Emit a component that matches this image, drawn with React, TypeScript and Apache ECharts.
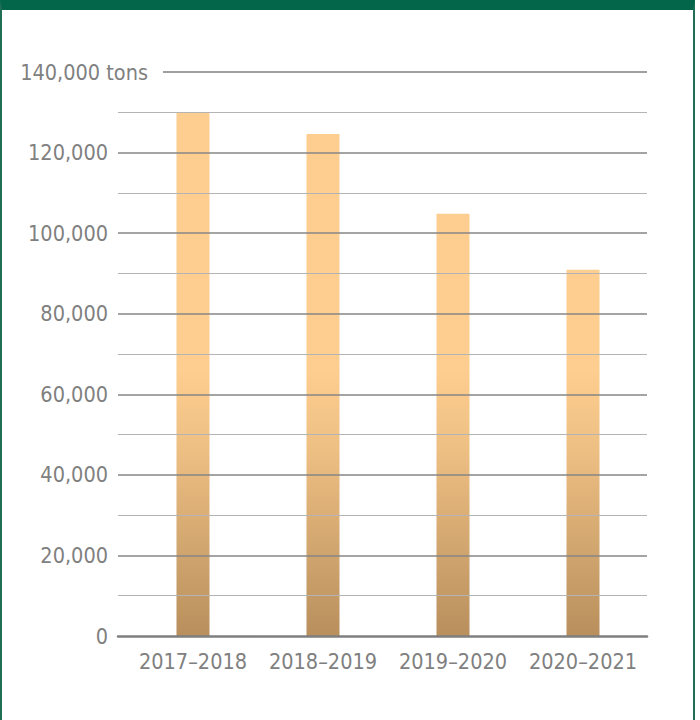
import React, { useEffect, useRef } from "react";
import * as echarts from "echarts";

const categories = ["2017–2018", "2018–2019", "2019–2020", "2020–2021"];
const values = [130000, 124600, 104800, 90900];
const yMax = 140000;
const majorStep = 20000;
const minorStep = 10000;
const unitLabel = "140,000 tons";

const FONT = "'DejaVu Sans Condensed', 'Liberation Sans Narrow', sans-serif";
const TEXT = "#808080";

export default function App() {
  const ref = useRef<HTMLDivElement>(null);
  useEffect(() => {
    document.body.style.margin = "0";
    const chart = echarts.init(ref.current!, null, { renderer: "svg" });
    const fmt = (v: number) => v.toLocaleString("en-US");
    chart.setOption({
      animation: false,
      backgroundColor: "transparent",
      grid: [
        { left: 118, right: 53, top: 72, bottom: 84 },
        { left: 128, right: 52, top: 72, bottom: 84 },
        { left: 163, right: 53, top: 72, bottom: 84 },
      ],
      xAxis: [
        {
          gridIndex: 0, type: "value", min: 0, max: 1, z: 4,
          axisLabel: { show: false }, axisTick: { show: false }, splitLine: { show: false },
          axisLine: { show: true, lineStyle: { color: "#7f7f7f", width: 2.5 } },
        },
        {
          gridIndex: 1, type: "category", data: categories,
          axisLine: { show: false }, axisTick: { show: false }, splitLine: { show: false },
          axisLabel: { color: TEXT, fontFamily: FONT, fontSize: 21.5, margin: 14, interval: 0 },
        },
        {
          gridIndex: 2, type: "value", min: 0, max: 1, show: false,
        },
      ],
      yAxis: [
        {
          gridIndex: 0, type: "value", min: 0, max: yMax, interval: majorStep, z: 4,
          axisLine: { show: false }, axisTick: { show: false },
          axisLabel: {
            color: TEXT, fontFamily: FONT, fontSize: 21.5, margin: 10,
            formatter: (v: number) => (v === yMax ? "" : fmt(v)),
          },
          splitLine: {
            show: true,
            lineStyle: { color: ["transparent", "#868686", "#868686", "#868686", "#868686", "#868686", "#868686", "transparent"], width: 1.7 },
          },
        },
        {
          gridIndex: 0, type: "value", min: 0, max: yMax, interval: minorStep, z: 3,
          axisLine: { show: false }, axisTick: { show: false }, axisLabel: { show: false },
          splitLine: { show: true, lineStyle: { color: ["transparent", "#b4b4b4"], width: 1 } },
        },
        {
          gridIndex: 1, type: "value", min: 0, max: yMax, show: false,
          splitLine: { show: false },
        },
        {
          gridIndex: 2, type: "value", min: 0, max: yMax, interval: yMax, z: 4,
          axisLine: { show: false }, axisTick: { show: false },
          axisLabel: {
            color: TEXT, fontFamily: FONT, fontSize: 21.5, margin: 15,
            formatter: (v: number) => (v === yMax ? unitLabel : ""),
          },
          splitLine: { show: true, lineStyle: { color: ["transparent", "#7f7f7f"], width: 1.6 } },
        },
      ],
      series: [
        {
          type: "bar",
          xAxisIndex: 1,
          yAxisIndex: 2,
          data: values,
          barWidth: 33,
          z: 1,
          itemStyle: {
            color: new echarts.graphic.LinearGradient(0, 370, 0, 636, [
              { offset: 0, color: "#fdce8f" },
              { offset: 0.3, color: "#eebf83" },
              { offset: 1, color: "#b88f5d" },
            ], true),
          },
        },
      ],
    });
    return () => chart.dispose();
  }, []);

  return (
    <div style={{ position: "fixed", left: 0, top: 0, width: 700, height: 720, background: "#fff" }}>
      <div
        style={{
          position: "absolute", left: 0, top: 0, width: 695, height: 720,
          boxSizing: "border-box", borderTop: "10px solid #03664a",
          borderLeft: "2px solid #1e6f55", borderRight: "2px solid #1e6f55",
        }}
      />
      <div ref={ref} style={{ position: "absolute", left: 0, top: 0, width: 700, height: 720 }} />
    </div>
  );
}
